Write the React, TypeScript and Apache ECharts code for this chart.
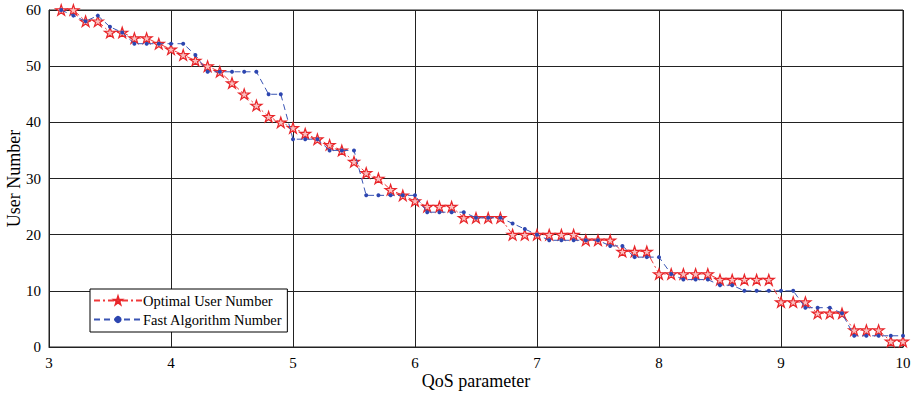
import React, { useEffect, useRef } from "react";
import * as echarts from "echarts";

const qosValues = [
  3.1, 3.2, 3.3, 3.4, 3.5, 3.6, 3.7, 3.8, 3.9, 4.0,
  4.1, 4.2, 4.3, 4.4, 4.5, 4.6, 4.7, 4.8, 4.9, 5.0,
  5.1, 5.2, 5.3, 5.4, 5.5, 5.6, 5.7, 5.8, 5.9, 6.0,
  6.1, 6.2, 6.3, 6.4, 6.5, 6.6, 6.7, 6.8, 6.9, 7.0,
  7.1, 7.2, 7.3, 7.4, 7.5, 7.6, 7.7, 7.8, 7.9, 8.0,
  8.1, 8.2, 8.3, 8.4, 8.5, 8.6, 8.7, 8.8, 8.9, 9.0,
  9.1, 9.2, 9.3, 9.4, 9.5, 9.6, 9.7, 9.8, 9.9, 10.0,
];

const optimalUsers = [
  60, 60, 58, 58, 56, 56, 55, 55, 54, 53,
  52, 51, 50, 49, 47, 45, 43, 41, 40, 39,
  38, 37, 36, 35, 33, 31, 30, 28, 27, 26,
  25, 25, 25, 23, 23, 23, 23, 20, 20, 20,
  20, 20, 20, 19, 19, 19, 17, 17, 17, 13,
  13, 13, 13, 13, 12, 12, 12, 12, 12, 8,
  8, 8, 6, 6, 6, 3, 3, 3, 1, 1,
];

const fastUsers = [
  60, 59, 58, 59, 57, 56, 54, 54, 54, 54,
  54, 52, 49, 49, 49, 49, 49, 45, 45, 37,
  37, 37, 35, 35, 35, 27, 27, 27, 27, 27,
  24, 24, 24, 24, 23, 23, 23, 22, 21, 20,
  19, 19, 19, 19, 19, 18, 18, 16, 16, 16,
  13, 12, 12, 12, 11, 11, 10, 10, 10, 10,
  10, 7, 7, 7, 6, 2, 2, 2, 2, 2,
];

const xTicks = { min: 3, max: 10, interval: 1 };
const yTicks = { min: 0, max: 60, interval: 10 };

const seriesNames = ["Optimal User Number", "Fast Algorithm Number"];

const STAR =
  "path://M50 0 L61.23 34.55 L97.55 34.55 L68.17 55.9 L79.39 90.45 L50 69.1 L20.61 90.45 L31.83 55.9 L2.45 34.55 L38.77 34.55 Z";

const FONT = "Liberation Serif";

export default function App() {
  const ref = useRef<HTMLDivElement>(null);

  useEffect(() => {
    if (!ref.current) return;
    const chart = echarts.init(ref.current, undefined, { renderer: "svg" });
    const optData = qosValues.map((x, i) => [x, optimalUsers[i]]);
    const fastData = qosValues.map((x, i) => [x, fastUsers[i]]);
    chart.setOption({
      animation: false,
      backgroundColor: "#fff",
      textStyle: { fontFamily: FONT },
      grid: {
        left: 49,
        right: 13,
        top: 10,
        bottom: 52,
        show: true,
        borderColor: "#222",
        borderWidth: 1,
        containLabel: false,
        outerBoundsMode: "none",
      },
      xAxis: {
        type: "value",
        min: xTicks.min,
        max: xTicks.max,
        interval: xTicks.interval,
        name: "QoS parameter",
        nameLocation: "middle",
        nameGap: 25,
        nameMoveOverlap: false,
        nameTextStyle: { fontFamily: FONT, fontSize: 18, color: "#000" },
        axisLine: { show: true, lineStyle: { color: "#222", width: 1 } },
        axisTick: { show: false },
        axisLabel: { fontFamily: FONT, fontSize: 15, color: "#000", margin: 8 },
        splitLine: { show: true, lineStyle: { color: "#222", width: 1 } },
      },
      yAxis: {
        type: "value",
        min: yTicks.min,
        max: yTicks.max,
        interval: yTicks.interval,
        name: "User Number",
        nameLocation: "middle",
        nameGap: 26,
        nameMoveOverlap: false,
        nameTextStyle: { fontFamily: FONT, fontSize: 18, color: "#000" },
        axisLine: { show: true, lineStyle: { color: "#222", width: 1 } },
        axisTick: { show: false },
        axisLabel: { fontFamily: FONT, fontSize: 15, color: "#000", margin: 8 },
        splitLine: { show: true, lineStyle: { color: "#222", width: 1 } },
      },
      legend: {
        orient: "vertical",
        left: 90,
        top: 289,
        padding: [4, 5, 5, 3],
        itemGap: 4,
        itemWidth: 48,
        itemHeight: 9,
        borderColor: "#000",
        borderWidth: 1,
        borderRadius: 0,
        backgroundColor: "#fff",
        textStyle: { fontFamily: FONT, fontSize: 14.5, color: "#000", padding: [0, 0, 0, -4] },
        data: seriesNames,
      },
      series: [
        {
          name: seriesNames[0],
          type: "line",
          data: optData,
          symbol: STAR,
          symbolSize: 11,
          symbolKeepAspect: true,
          lineStyle: { color: "#f0393a", width: 1, type: [6, 3, 2, 3] },
          itemStyle: { color: "#f9c0c0", borderColor: "#e8262a", borderWidth: 1.2 },
          z: 2,
        },
        {
          name: seriesNames[1],
          type: "line",
          data: fastData,
          symbol: "circle",
          symbolSize: 4,
          lineStyle: { color: "#3a55b4", width: 1, type: [6, 4] },
          itemStyle: { color: "#2d46b0", borderColor: "#2d46b0", borderWidth: 0 },
          z: 3,
        },
      ],
    });
    return () => chart.dispose();
  }, []);

  return (
    <div
      ref={ref}
      style={{ width: 916, height: 399, position: "absolute", left: 0, top: 0 }}
    />
  );
}
